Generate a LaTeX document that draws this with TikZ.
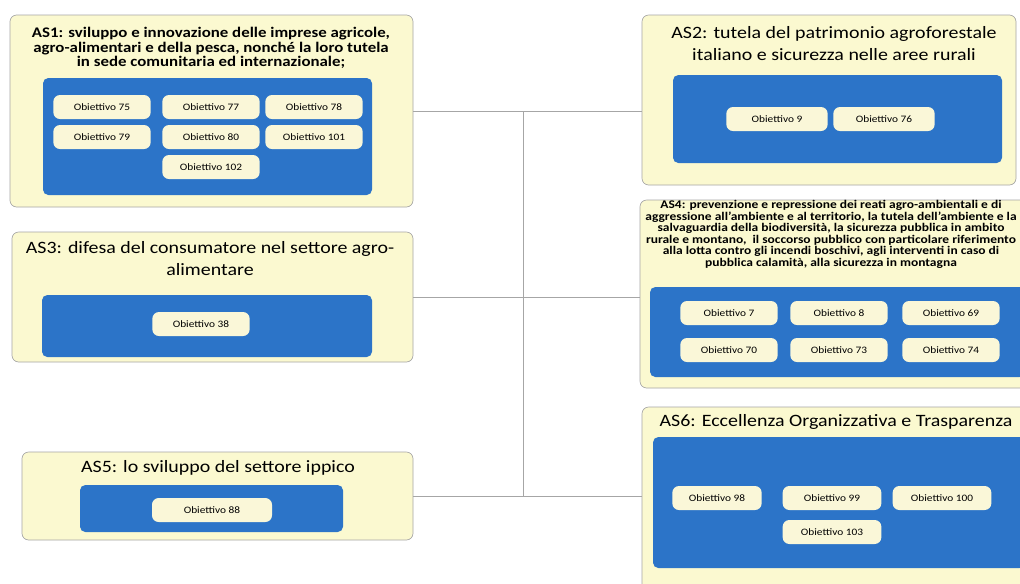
\documentclass[tikz,border=0pt]{standalone}
\usepackage{fontspec}
\setmainfont{Carlito}[FakeStretch=1.15]
\usetikzlibrary{fit}
\definecolor{asfill}{RGB}{251,249,208}
\definecolor{panelblue}{RGB}{44,116,200}
\definecolor{pillfill}{RGB}{250,247,216}
\begin{document}
\begin{tikzpicture}[x=0.75pt,y=-0.75pt,
    asbox/.style={draw=gray!70,line width=0.5pt,fill=asfill,rounded corners=5pt,inner sep=0pt},
    panel/.style={fill=panelblue,rounded corners=4pt,inner sep=0pt},
    obj/.style={fill=pillfill,rounded corners=5pt,minimum width=73pt,minimum height=18pt,inner sep=1pt,font=\fontsize{7.4}{8}\selectfont},
    bigtitle/.style={align=center,inner sep=0pt,font=\fontsize{13}{17}\selectfont},
    link/.style={draw=gray!70,line width=0.5pt}]
    \clip (0,0) rectangle (1020,583);
    \fill[white] (0,0) rectangle (1020,583);
    \node[asbox,fit={(10,15) (413,207)}] (as1) {};
    \node[asbox,fit={(642,15) (1016,185)}] (as2) {};
    \node[asbox,fit={(12,232) (413,362)}] (as3) {};
    \node[asbox,fit={(640,200) (1030,388)}] (as4) {};
    \node[asbox,fit={(22,452) (413,540)}] (as5) {};
    \node[asbox,fit={(642,407) (1030,600)}] (as6) {};
    \coordinate (spine) at (523,0);
    \draw[link] (as1.east) -- (as1.east -| as2.west);
    \draw[link] (as3.east) -- (as3.east -| as4.west);
    \draw[link] (as5.east) -- (as5.east -| as6.west);
    \draw[link] (spine |- as1.east) -- (spine |- as5.east);
    \node[align=center,inner sep=0pt,font=\bfseries\fontsize{11}{10.9}\selectfont] (as1title) at (211,48)
        {AS1: sviluppo e innovazione delle imprese agricole,\\agro-alimentari e della pesca, nonché la loro tutela\\in sede comunitaria ed internazionale;};
    \node[bigtitle] (as2title) at (834,43.5) {AS2: tutela del patrimonio agroforestale\\italiano e sicurezza nelle aree rurali};
    \node[bigtitle] (as3title) at (210,258.5) {AS3: difesa del consumatore nel settore agro-\\alimentare};
    \node[align=center,inner sep=0pt,font=\bfseries\fontsize{8.8}{7.4}\selectfont] (as4title) at (831,234)
        {AS4: prevenzione e repressione dei reati agro-ambientali e di\\aggressione all’ambiente e al territorio, la tutela dell’ambiente e la\\salvaguardia della biodiversità, la sicurezza pubblica in ambito\\rurale e montano,\ \ il soccorso pubblico con particolare riferimento\\alla lotta contro gli incendi boschivi, agli interventi in caso di\\pubblica calamità, alla sicurezza in montagna};
    \node[bigtitle] (as5title) at (218,468) {AS5: lo sviluppo del settore ippico};
    \node[bigtitle] (as6title) at (836,422) {AS6: Eccellenza Organizzativa e Trasparenza};
    \node[panel,fit={(43,78) (372,195)}] (p1) {};
    \node[panel,fit={(673,75) (1002,163)}] (p2) {};
    \node[panel,fit={(42,295) (372,357)}] (p3) {};
    \node[panel,fit={(650,287) (1025,377)}] (p4) {};
    \node[panel,fit={(80,485) (343,532)}] (p5) {};
    \node[panel,fit={(653,437) (1025,568)}] (p6) {};
    \foreach \n/\px/\py in {75/102/107,77/211/107,78/314/107,79/102/137,80/211/137,101/314/137,102/211/167}
        \node[obj] (o\n) at (\px,\py) {Obiettivo \n};
    \foreach \n/\px/\py in {9/777/119,76/884/119}
        \node[obj,minimum width=76pt] (o\n) at (\px,\py) {Obiettivo \n};
    \node[obj] (o38) at (201,324) {Obiettivo 38};
    \foreach \n/\px/\py in {7/729/313,8/839/313,69/951/313,70/729/350,73/839/350,74/951/350}
        \node[obj] (o\n) at (\px,\py) {Obiettivo \n};
    \node[obj,minimum width=90pt] (o88) at (212,510) {Obiettivo 88};
    \node[obj,minimum width=67pt] (o98) at (717,498) {Obiettivo 98};
    \foreach \n/\px/\py in {99/832/498,100/942/498,103/832/532}
        \node[obj,minimum width=74pt] (o\n) at (\px,\py) {Obiettivo \n};
\end{tikzpicture}
\end{document}
